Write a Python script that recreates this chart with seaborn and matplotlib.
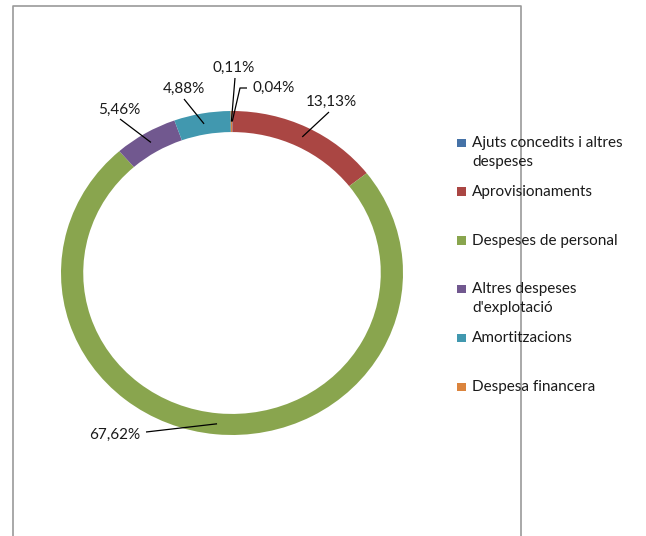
import matplotlib
matplotlib.use("Agg")
import matplotlib.pyplot as plt
import seaborn as sns
import numpy as np
from matplotlib.patches import Rectangle
from matplotlib.lines import Line2D

# ---- data ----
categories = ["Ajuts concedits i altres despeses", "Aprovisionaments",
              "Despeses de personal", "Altres despeses d'explotació",
              "Amortitzacions", "Despesa financera"]
legend_labels = ["Ajuts concedits i altres\ndespeses", "Aprovisionaments",
                 "Despeses de personal", "Altres despeses\nd'explotació",
                 "Amortitzacions", "Despesa financera"]
values = [0.04, 13.13, 67.62, 5.46, 4.88, 0.11]
value_labels = [f"{v:.2f}".replace(".", ",") + "%" for v in values]
colors = ["#4572A7", "#AA4643", "#89A54E", "#71588F", "#4198AF", "#DB843D"]

# ---- layout (pixels) ----
W, H = 646, 536
cx, cy, rx, ry = 232, 273, 171, 162
label_pos = [(273.5, 88), (331.5, 102), (115, 435), (119.5, 110), (184, 89), (234, 68)]
leader_start = [[(247, 88), (240, 88)], [(329, 112)], [(146, 432)],
                [(120, 119)], [(184, 99)], [(235, 78)]]
FONT = "Lato"
FS = 11
TXT = "#1a1a1a"

sns.set_theme(style="white")
plt.rcParams["font.family"] = [FONT, "DejaVu Sans"]

fig = plt.figure(figsize=(W / 100, H / 100), dpi=100)
ax = fig.add_axes([0, 0, 1, 1])

wedges, _ = ax.pie(values, colors=colors, startangle=90, counterclock=False,
                   radius=1, wedgeprops=dict(width=0.13, linewidth=0))
ax.set_aspect("auto")
ax.set_xlim(-cx / rx, (W - cx) / rx)
ax.set_ylim((cy - H) / ry, cy / ry)
ax.axis("off")


def px(x, y):
    return ((x - cx) / rx, (cy - y) / ry)


rmid = 0.935
for w, lab, pos, starts in zip(wedges, value_labels, label_pos, leader_start):
    th = np.deg2rad((w.theta1 + w.theta2) / 2)
    end = (rmid * np.cos(th), rmid * np.sin(th))
    pts = [px(*p) for p in starts] + [end]
    ax.plot([p[0] for p in pts], [p[1] for p in pts], color="black", lw=0.9,
            solid_capstyle="butt")
    ax.text(*px(*pos), lab, ha="center", va="center", fontsize=FS,
            color=TXT, family=[FONT, "DejaVu Sans"])

# ---- legend ----
for i, (lab, col) in enumerate(zip(legend_labels, colors)):
    base = 147 + i * 48.8
    fig.add_artist(Rectangle((457 / W, 1 - base / H), 9 / W, 8.5 / H,
                             transform=fig.transFigure, facecolor=col,
                             edgecolor="none"))
    for j, line in enumerate(lab.split("\n")):
        fig.text(472 / W, 1 - (base + j * 19) / H, line, ha="left",
                 va="baseline", fontsize=FS, color=TXT,
                 family=[FONT, "DejaVu Sans"])

# ---- border ----
bx = [12.5, 12.5, 520.5, 520.5]
by = [540, 5.5, 5.5, 540]
fig.add_artist(Line2D([x / W for x in bx], [1 - y / H for y in by],
                      transform=fig.transFigure, color="#9a9a9a", lw=1.2))

fig.savefig("out.png", dpi=100, facecolor="white")
